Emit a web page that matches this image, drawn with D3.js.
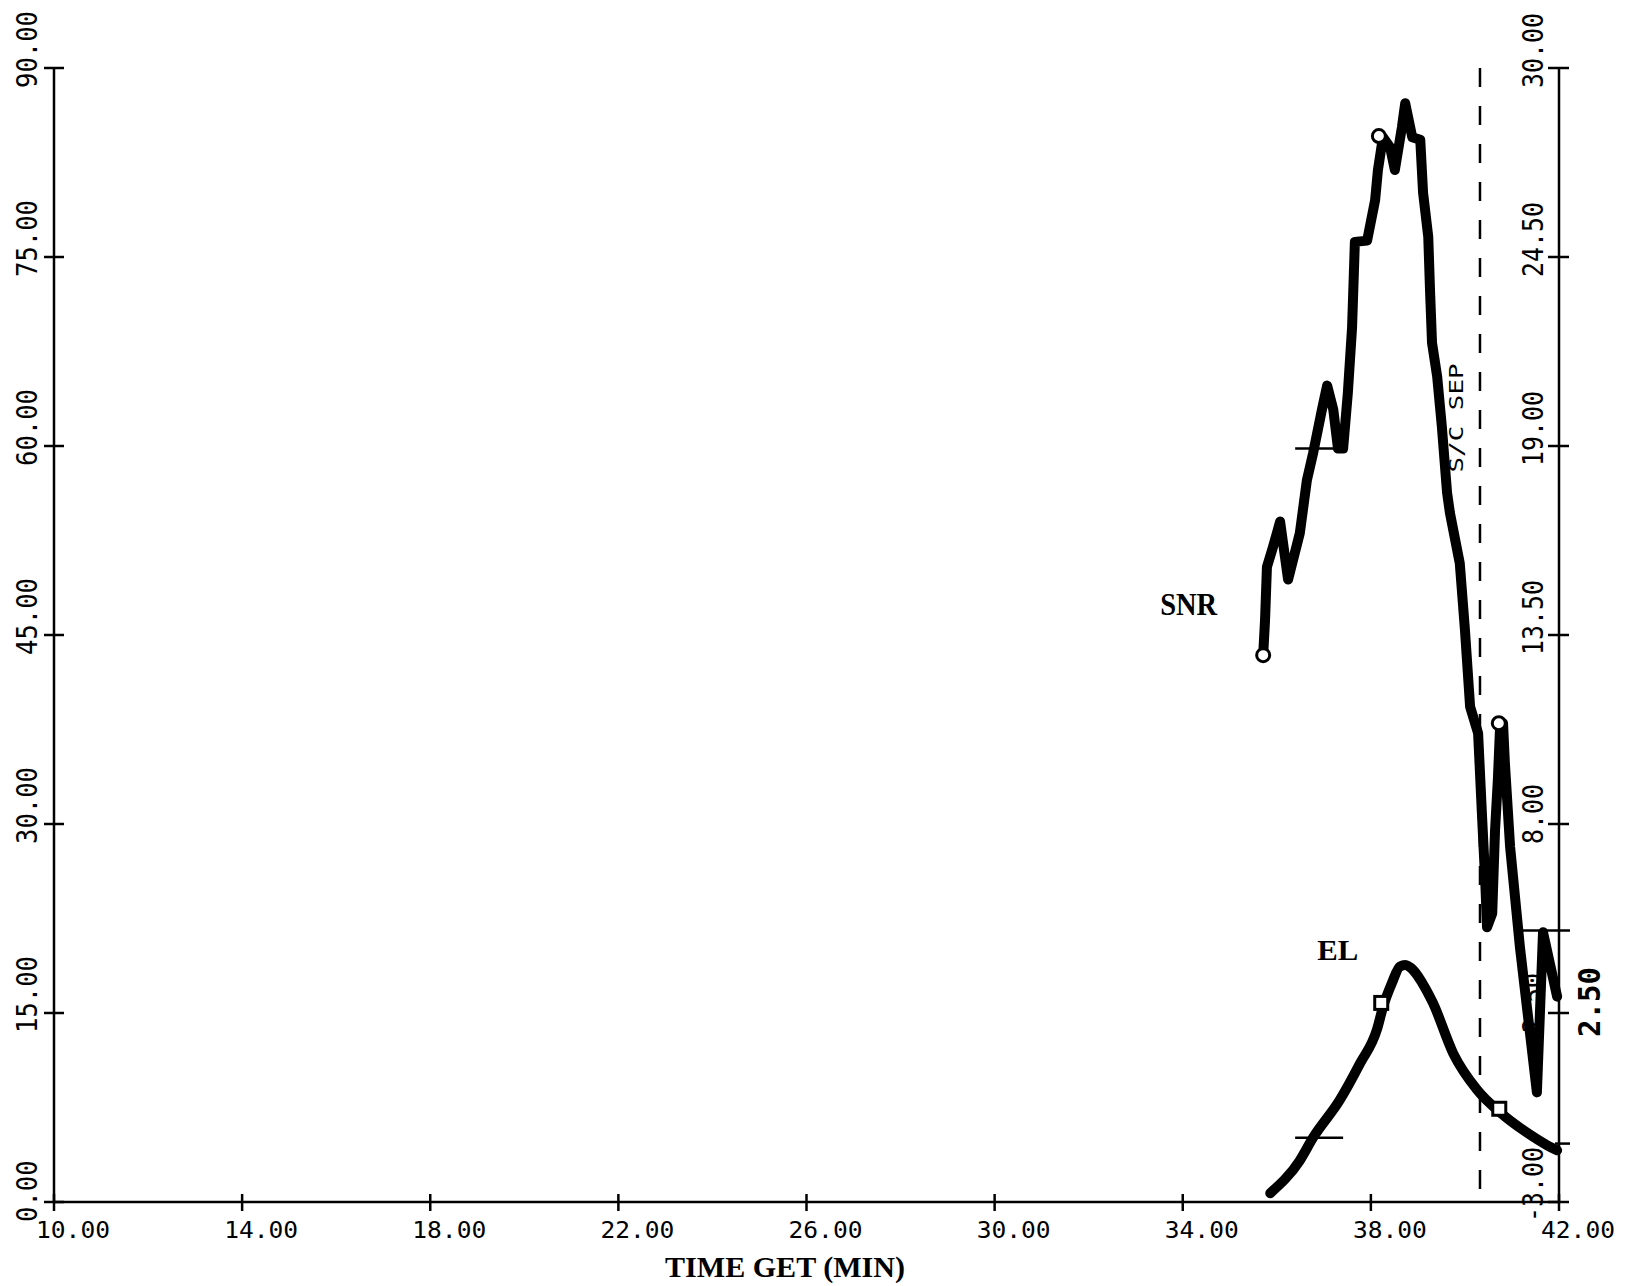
<!DOCTYPE html>
<html><head><meta charset="utf-8">
<script src="https://cdn.jsdelivr.net/npm/d3@7"></script>
<style>html,body{margin:0;padding:0;background:#fff;} svg{display:block;}</style>
</head><body>
<svg id="chart" width="1632" height="1286"></svg>
<script>
// ---- data ----
const xTicks = [10, 14, 18, 22, 26, 30, 34, 38, 42];
const xTickLabels = ["10.00", "14.00", "18.00", "22.00", "26.00", "30.00", "34.00", "38.00", "42.00"];
const leftTicks = [0, 15, 30, 45, 60, 75, 90];
const leftTickLabels = ["0.00", "15.00", "30.00", "45.00", "60.00", "75.00", "90.00"];
const rightTicks = [-3, 2.5, 8, 13.5, 19, 24.5, 30];
const rightTickLabels = ["-3.00", "2.50", "8.00", "13.50", "19.00", "24.50", "30.00"];

const snrTime = [35.71, 35.75, 35.79, 35.92, 36.07, 36.24, 36.49, 36.64, 36.77, 36.96, 37.07, 37.20, 37.30, 37.41, 37.51, 37.60, 37.66, 37.92, 38.09, 38.15, 38.24, 38.26, 38.41, 38.51, 38.66, 38.73, 38.88, 39.05, 39.11, 39.22, 39.26, 39.30, 39.41, 39.51, 39.62, 39.68, 39.89, 40.00, 40.11, 40.28, 40.36, 40.43, 40.47, 40.58, 40.64, 40.70, 40.75, 40.81, 40.85, 40.96, 41.17, 41.53, 41.66, 41.96];
const snrValue = [43.4, 46.2, 50.4, 52.0, 54.0, 49.4, 53.1, 57.3, 59.4, 62.9, 64.8, 62.9, 59.8, 59.8, 64.2, 69.4, 76.2, 76.3, 79.5, 81.9, 84.1, 84.5, 83.7, 81.9, 85.3, 87.2, 84.5, 84.3, 80.1, 76.6, 72.1, 68.2, 65.5, 61.5, 56.3, 54.7, 50.7, 45.4, 39.3, 37.2, 30.9, 25.6, 21.8, 22.9, 29.5, 33.5, 38.0, 38.0, 34.8, 28.2, 20.2, 8.7, 21.4, 16.3];

const elTime = [35.86, 36.49, 36.77, 37.34, 37.77, 38.13, 38.26, 38.45, 38.62, 38.73, 38.90, 39.09, 39.32, 39.75, 40.26, 40.75, 41.32, 41.75, 41.96];
const elValue = [0.7, 3.3, 5.1, 8.1, 11.0, 13.7, 15.5, 17.4, 18.7, 18.8, 18.4, 17.4, 15.8, 11.8, 8.9, 7.1, 5.5, 4.5, 4.1];

const snrMarkTime = [35.71, 38.17, 40.72];
const snrMarkValue = [43.4, 84.6, 38.0];
const elMarkTime = [38.22, 40.73];
const elMarkValue = [15.8, 7.4];

const crossTime = [36.9, 36.9];
const crossValue = [59.8, 5.1];
const rightMarkValue = [4.9, -1.3];

const sepTime = 40.32;

// ---- scales ----
const svg = d3.select("#chart");
const x = d3.scaleLinear().domain([10, 42]).range([54, 1559]);
const yL = d3.scaleLinear().domain([0, 90]).range([1202, 68]);
const yR = d3.scaleLinear().domain([-3, 30]).range([1202, 68]);

const mono = "'DejaVu Sans Mono', monospace";
const serif = "'Liberation Serif', 'DejaVu Serif', serif";
const axW = 2.5;

// ---- axes (plotter style, ticks crossing the line) ----
const axes = svg.append("g").attr("stroke", "#000").attr("stroke-width", axW).attr("fill", "none");
axes.append("line").attr("x1", x(10)).attr("x2", x(42)).attr("y1", yL(0)).attr("y2", yL(0));
axes.append("line").attr("x1", x(10)).attr("x2", x(10)).attr("y1", yL(0)).attr("y2", yL(90));
axes.append("line").attr("x1", x(42)).attr("x2", x(42)).attr("y1", yR(-3)).attr("y2", yR(30));

axes.selectAll(".xt").data(xTicks).join("line")
  .attr("x1", d => x(d)).attr("x2", d => x(d)).attr("y1", yL(0) - 8).attr("y2", yL(0) + 9);
axes.selectAll(".lt").data(leftTicks).join("line")
  .attr("x1", x(10) - 10).attr("x2", x(10) + 10).attr("y1", d => yL(d)).attr("y2", d => yL(d));
axes.selectAll(".rt").data(rightTicks).join("line")
  .attr("x1", x(42) - 11).attr("x2", x(42) + 10).attr("y1", d => yR(d)).attr("y2", d => yR(d));

// extra plotter marks on right axis
axes.append("line").attr("x1", x(42) - 37).attr("x2", x(42) + 11)
  .attr("y1", yR(rightMarkValue[0])).attr("y2", yR(rightMarkValue[0]));
axes.append("line").attr("x1", x(42) - 4).attr("x2", x(42) + 11)
  .attr("y1", yR(rightMarkValue[1])).attr("y2", yR(rightMarkValue[1]));

// ---- tick labels ----
const lab = svg.append("g").attr("font-family", mono).attr("fill", "#000");
lab.selectAll(".xl").data(xTicks).join("text")
  .attr("x", d => x(d) - 18).attr("y", yL(0) + 36)
  .attr("font-size", 23)
  .attr("textLength", (d, i) => xTickLabels[i].length * 14.8)
  .attr("lengthAdjust", "spacingAndGlyphs")
  .text((d, i) => xTickLabels[i]);

lab.selectAll(".yl").data(leftTicks).join("text")
  .attr("transform", d => `translate(${x(10) - 17},${yL(d) + 20}) rotate(-90)`)
  .attr("font-size", 28)
  .attr("textLength", (d, i) => leftTickLabels[i].length * 15.4)
  .attr("lengthAdjust", "spacingAndGlyphs")
  .text((d, i) => leftTickLabels[i]);

lab.selectAll(".rl").data(rightTicks).join("text")
  .attr("transform", d => `translate(${x(42) - 16},${yR(d) + 20}) rotate(-90)`)
  .attr("font-size", 28)
  .attr("textLength", (d, i) => rightTickLabels[i].length * 15.0)
  .attr("lengthAdjust", "spacingAndGlyphs")
  .text((d, i) => rightTickLabels[i]);

// typed replacement label "2.50"
svg.append("text")
  .attr("transform", `translate(${x(42) + 41},${yR(2.5) + 24}) rotate(-90)`)
  .attr("font-family", "'DejaVu Sans Mono', monospace").attr("font-weight", "bold")
  .attr("font-size", 30).attr("textLength", 70).attr("lengthAdjust", "spacingAndGlyphs")
  .text("2.50");

// ---- S/C SEP dashed line ----
svg.append("line")
  .attr("x1", x(sepTime)).attr("x2", x(sepTime)).attr("y1", yL(90)).attr("y2", yL(0))
  .attr("stroke", "#000").attr("stroke-width", 2.5).attr("stroke-dasharray", "19,19");
svg.append("text")
  .attr("transform", `translate(${x(sepTime) - 17},${yL(57.9)}) rotate(-90)`)
  .attr("font-family", mono).attr("font-size", 19)
  .attr("textLength", 109).attr("lengthAdjust", "spacingAndGlyphs")
  .text("S/C SEP");

// ---- curves ----
const snrLine = d3.line().x((d, i) => x(snrTime[i])).y(d => yL(d)).curve(d3.curveLinear);
svg.append("path").datum(snrValue).attr("d", snrLine)
  .attr("fill", "none").attr("stroke", "#000").attr("stroke-width", 10)
  .attr("stroke-linejoin", "round").attr("stroke-linecap", "round");

const elLine = d3.line().x((d, i) => x(elTime[i])).y(d => yL(d)).curve(d3.curveMonotoneX);
svg.append("path").datum(elValue).attr("d", elLine)
  .attr("fill", "none").attr("stroke", "#000").attr("stroke-width", 10)
  .attr("stroke-linejoin", "round").attr("stroke-linecap", "round");

// crosshair markers
svg.append("g").attr("stroke", "#000").attr("stroke-width", 2.5)
  .selectAll("line").data(crossValue).join("line")
  .attr("x1", (d, i) => x(crossTime[i] - 0.51)).attr("x2", (d, i) => x(crossTime[i] + 0.51))
  .attr("y1", d => yL(d)).attr("y2", d => yL(d));

// symbols
svg.append("g").selectAll("circle").data(snrMarkValue).join("circle")
  .attr("cx", (d, i) => x(snrMarkTime[i])).attr("cy", d => yL(d)).attr("r", 6.5)
  .attr("fill", "#fff").attr("stroke", "#000").attr("stroke-width", 3);
svg.append("g").selectAll("rect").data(elMarkValue).join("rect")
  .attr("x", (d, i) => x(elMarkTime[i]) - 6.5).attr("y", d => yL(d) - 6.5)
  .attr("width", 13).attr("height", 13)
  .attr("fill", "#fff").attr("stroke", "#000").attr("stroke-width", 3);

// ---- annotation labels ----
svg.append("text").attr("x", x(33.52)).attr("y", yL(46.6))
  .attr("font-family", serif).attr("font-weight", "bold").attr("font-size", 32)
  .attr("textLength", 57).attr("lengthAdjust", "spacingAndGlyphs").text("SNR");
svg.append("text").attr("x", x(36.86)).attr("y", yL(19.2))
  .attr("font-family", serif).attr("font-weight", "bold").attr("font-size", 30)
  .attr("textLength", 41).attr("lengthAdjust", "spacingAndGlyphs").text("EL");
svg.append("text").attr("x", 665).attr("y", 1277)
  .attr("font-family", serif).attr("font-weight", "bold").attr("font-size", 30)
  .attr("textLength", 240).attr("lengthAdjust", "spacingAndGlyphs").text("TIME GET (MIN)");
</script>
</body></html>
